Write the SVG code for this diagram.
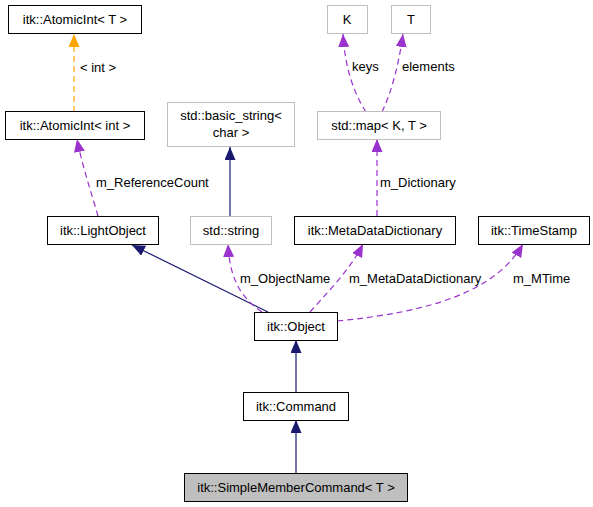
<svg xmlns="http://www.w3.org/2000/svg" width="593" height="507" viewBox="0 0 593 507">
<defs>
<style>
text{font-family:"Liberation Sans",Arial,sans-serif;font-size:13px;fill:#000}
.n rect{fill:#fff;stroke:#000;stroke-width:1}
.g rect{fill:#fff;stroke:#bfbfbf;stroke-width:1}
.h rect{fill:#bfbfbf;stroke:#000;stroke-width:1}
.nt{text-anchor:middle}
.inh{fill:none;stroke:#191970;stroke-width:1.2}
.use{fill:none;stroke:#9a32cd;stroke-width:1.2;stroke-dasharray:6,4}
.tpl{fill:none;stroke:#ffa500;stroke-width:1.2;stroke-dasharray:6,4}
</style>
<marker id="aInh" markerUnits="userSpaceOnUse" markerWidth="14" markerHeight="12" refX="13" refY="5.5" orient="auto"><path d="M0,0 L13,5.5 L0,11 z" fill="#191970"/></marker>
<marker id="aUse" markerUnits="userSpaceOnUse" markerWidth="14" markerHeight="12" refX="13" refY="5.5" orient="auto"><path d="M0,0 L13,5.5 L0,11 z" fill="#9a32cd"/></marker>
<marker id="aTpl" markerUnits="userSpaceOnUse" markerWidth="14" markerHeight="12" refX="13" refY="5.5" orient="auto"><path d="M0,0 L13,5.5 L0,11 z" fill="#ffa500"/></marker>
</defs>
<rect width="593" height="507" fill="#fff"/>
<g id="edges">
<path class="tpl" d="M74,112 L74,34" marker-end="url(#aTpl)"/>
<text x="80" y="72">&lt; int &gt;</text>
<path class="use" d="M98,216 C92,195 82,165 77,139" marker-end="url(#aUse)"/>
<text x="96" y="187">m_ReferenceCount</text>
<path class="inh" d="M230,216 L230,147" marker-end="url(#aInh)"/>
<path class="inh" d="M268,312 L132,245" marker-end="url(#aInh)"/>
<path class="use" d="M262,312 C245,300 230,285 228,244" marker-end="url(#aUse)"/>
<text x="240" y="283">m_ObjectName</text>
<path class="use" d="M310,312 C325,295 350,270 363,244" marker-end="url(#aUse)"/>
<text x="349" y="283">m_MetaDataDictionary</text>
<path class="use" d="M337,321 C430,312 495,292 523,244" marker-end="url(#aUse)"/>
<text x="513" y="283">m_MTime</text>
<path class="use" d="M377,216 L377,139" marker-end="url(#aUse)"/>
<text x="380" y="187">m_Dictionary</text>
<path class="use" d="M366,112 C355,95 345,70 343,34" marker-end="url(#aUse)"/>
<text x="352" y="71">keys</text>
<path class="use" d="M382,112 C390,95 398,70 403,34" marker-end="url(#aUse)"/>
<text x="402" y="71">elements</text>
<path class="inh" d="M296,392 L296,340" marker-end="url(#aInh)"/>
<path class="inh" d="M296,473 L296,420" marker-end="url(#aInh)"/>
</g>
<g id="atomicT" class="n"><rect x="8.5" y="5.5" width="133" height="28"/><text class="nt" x="75" y="24">itk::AtomicInt&lt; T &gt;</text></g>
<g id="atomicInt" class="n"><rect x="5.5" y="111.5" width="139" height="28"/><text class="nt" x="75" y="130">itk::AtomicInt&lt; int &gt;</text></g>
<g id="basicString" class="g"><rect x="167.5" y="102.5" width="127" height="44"/><text class="nt" x="231" y="120">std::basic_string&lt;</text><text class="nt" x="231" y="137">char &gt;</text></g>
<g id="K" class="g"><rect x="327.5" y="5.5" width="40" height="28"/><text class="nt" x="347" y="24">K</text></g>
<g id="T" class="g"><rect x="391.5" y="5.5" width="39" height="28"/><text class="nt" x="411" y="24">T</text></g>
<g id="stdMap" class="g"><rect x="317.5" y="111.5" width="123" height="28"/><text class="nt" x="379" y="130">std::map&lt; K, T &gt;</text></g>
<g id="lightObject" class="n"><rect x="47.5" y="216.5" width="111" height="28"/><text class="nt" x="103" y="235">itk::LightObject</text></g>
<g id="stdString" class="g"><rect x="190.5" y="216.5" width="81" height="28"/><text class="nt" x="231" y="235">std::string</text></g>
<g id="metaDataDictionary" class="n"><rect x="294.5" y="216.5" width="161" height="28"/><text class="nt" x="375" y="235">itk::MetaDataDictionary</text></g>
<g id="timeStamp" class="n"><rect x="478.5" y="216.5" width="111" height="28"/><text class="nt" x="534" y="235">itk::TimeStamp</text></g>
<g id="object" class="n"><rect x="254.5" y="312.5" width="83" height="28"/><text class="nt" x="296" y="331">itk::Object</text></g>
<g id="command" class="n"><rect x="243.5" y="392.5" width="105" height="28"/><text class="nt" x="296" y="411">itk::Command</text></g>
<g id="simpleMemberCommand" class="h"><rect x="184.5" y="473.5" width="223" height="28"/><text class="nt" x="296" y="492">itk::SimpleMemberCommand&lt; T &gt;</text></g>
</svg>
